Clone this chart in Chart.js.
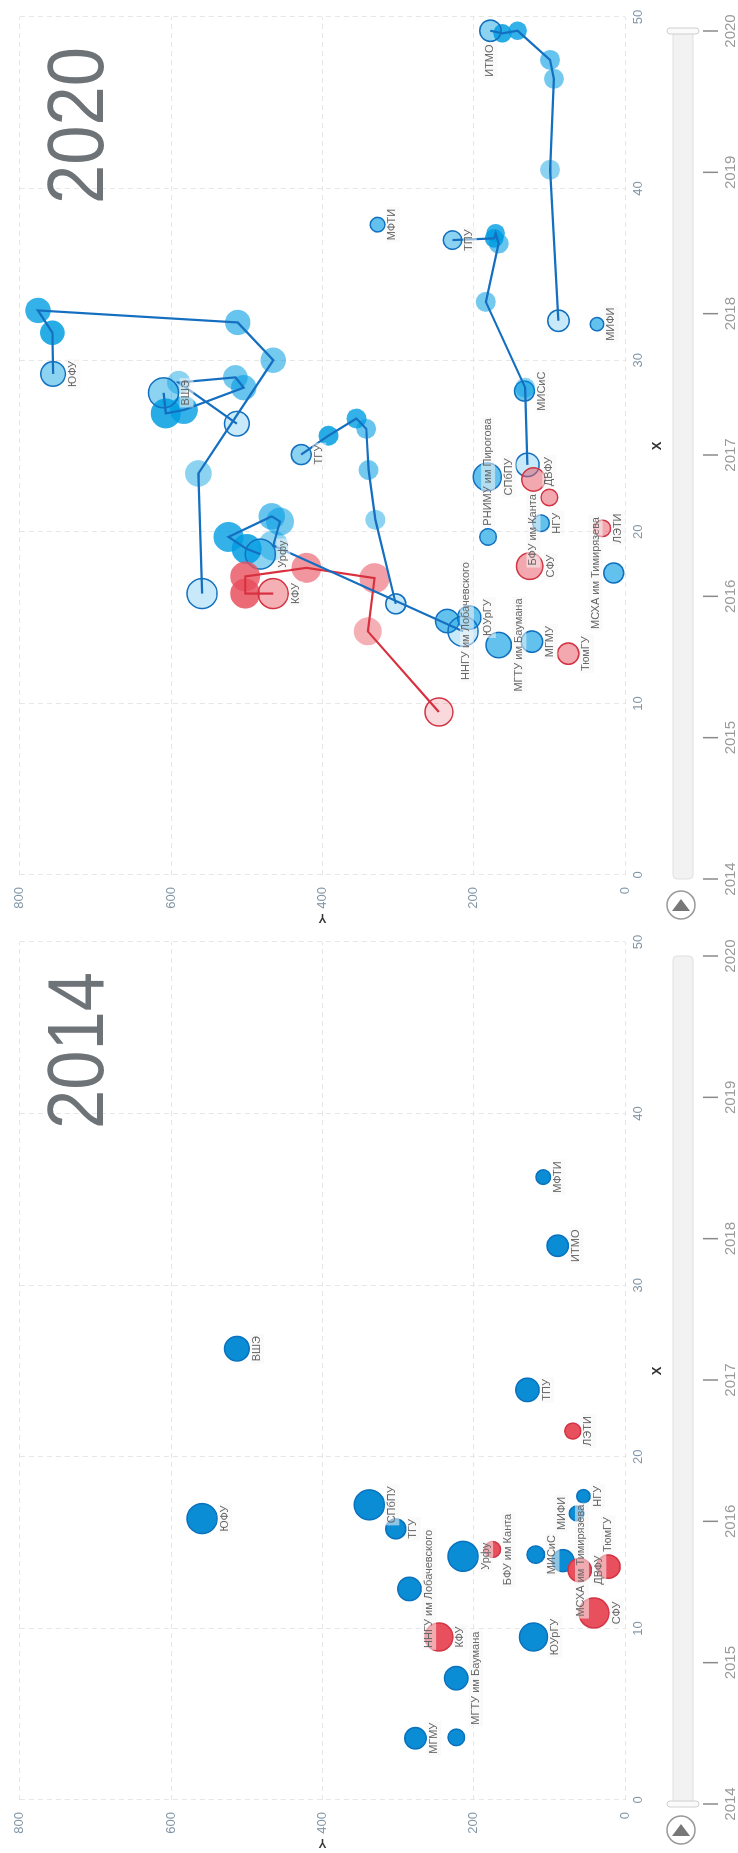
<!DOCTYPE html>
<html>
<head>
<meta charset="utf-8">
<script src="https://cdn.jsdelivr.net/npm/chart.js@4.4.1/dist/chart.umd.min.js"></script>
<style>
    html, body { margin: 0; padding: 0; background: #fff; }
    body { width: 738px; height: 1853px; position: relative; overflow: hidden; }
    .panel { position: absolute; left: 0; width: 925px; height: 738px; transform-origin: 0 0; }
    .panel canvas { display: block; }
</style>
</head>
<body>
<div class="panel" style="top:0; transform: translate(0, 925px) rotate(-90deg);">
    <canvas id="chart2020" width="925" height="738" style="width:925px;height:738px"></canvas>
</div>
<div class="panel" style="top:925px; transform: translate(0, 925px) rotate(-90deg);">
    <canvas id="chart2014" width="925" height="738" style="width:925px;height:738px"></canvas>
</div>
<script>
// ---- данные ----
const years = [2014, 2015, 2016, 2017, 2018, 2019, 2020];
const redUnis = ['КФУ', 'СФУ', 'ЛЭТИ', 'БФУ им Канта', 'ДВФУ', 'ТюмГУ'];

// 2014
const names2014 = ['ЮФУ', 'ВШЭ', 'МФТИ', 'ИТМО', 'ТПУ', 'ЛЭТИ', 'СПбПУ', 'ТГУ', 'ННГУ им Лобачевского', 'Урфу',
    'БФУ им Канта', 'МИСиС', 'МИФИ', 'НГУ', 'МСХА им Тимирязева', 'ДВФУ', 'ТюмГУ', 'СФУ', 'ЮУрГУ', 'КФУ',
    'МГТУ им Баумана', 'МГМУ', 'РНИМУ им Пирогова'];
const x2014 = [16.4, 26.3, 36.3, 32.3, 23.9, 21.5, 17.2, 15.8, 12.3, 14.2,
    14.6, 14.3, 16.7, 17.7, 13.95, 13.4, 13.6, 10.9, 9.5, 9.5,
    7.1, 3.6, 3.65];
const y2014 = [559, 513, 108, 89, 129, 69, 338, 303, 285, 214,
    175, 118, 64, 55, 82, 60, 22, 41, 121, 246,
    223, 277, 223];
const size2014 = [15, 12.3, 7.3, 10.7, 11.7, 8, 15, 10, 11.7, 15,
    8, 8.7, 7.3, 6.7, 11, 11.7, 11.7, 15, 14, 14,
    11.7, 10.7, 8.3];

// 2020, точки без следа
const names2020 = ['МФТИ', 'МИФИ', 'МИСиС', 'РНИМУ им Пирогова', 'СПбПУ', 'БФУ им Канта', 'ДВФУ', 'НГУ', 'ЛЭТИ', 'СФУ',
    'МСХА им Тимирязева', 'ННГУ им Лобачевского', 'ЮУрГУ', 'МГТУ им Баумана', 'МГМУ', 'ТюмГУ'];
const x2020 = [37.9, 32.1, 28.2, 19.7, 23.2, 23.05, 22.0, 20.5, 20.2, 18.0,
    17.6, 14.8, 15.0, 13.4, 13.6, 12.9];
const y2020 = [327, 37, 133, 181, 182, 121, 100, 111, 30, 126,
    15, 235, 206, 167, 123, 75];
const size2020 = [7.3, 6.7, 10, 8.3, 14, 11.7, 8.3, 8.3, 8.3, 13.3,
    10, 11.7, 11.7, 12.7, 10.7, 10.7];

// следы 2014 -> 2020
const trailNames = ['ЮФУ', 'ВШЭ', 'ИТМО', 'ТПУ', 'ТГУ', 'Урфу', 'КФУ'];
const trailX = [
    [16.4, 23.4, 30.0, 32.2, 32.9, 31.6, 29.2],
    [26.3, 28.7, 29.0, 28.4, 27.1, 26.9, 28.1],
    [32.3, 41.1, 46.4, 47.5, 49.2, 49.05, 49.2],
    [23.9, 28.4, 33.4, 36.8, 37.4, 37.1, 37.0],
    [15.8, 20.7, 23.6, 26.0, 26.6, 25.6, 24.5],
    [14.2, 19.2, 20.6, 20.9, 19.7, 19.0, 18.7],
    [9.5, 14.2, 17.3, 17.9, 17.4, 16.4, 16.4]
];
const trailY = [
    [559, 564, 465, 512, 776, 757, 756],
    [513, 590, 515, 504, 583, 607, 610],
    [88, 99, 94, 99, 142, 162, 178],
    [129, 132, 184, 167, 171, 173, 228],
    [303, 330, 339, 342, 355, 392, 428],
    [214, 465, 456, 467, 524, 500, 482],
    [246, 340, 331, 421, 502, 502, 465]
];
const trailSize = [
    [15, 13.3, 12.7, 12.7, 12.7, 12.3, 12.3],
    [12.3, 11.7, 12.3, 12.7, 14, 15, 15],
    [10.7, 10, 10, 10, 9.3, 9.3, 10.7],
    [11.7, 10, 10, 10, 9.3, 9.3, 9.3],
    [10, 10, 10, 10, 10, 10, 10],
    [15, 15, 14, 13.3, 15, 15, 15],
    [14, 14, 15, 15, 15, 15, 15]
];

// где подпись относительно пузыря (b - снизу по умолчанию)
const sides2014 = { 'МИФИ': 't', 'ТюмГУ': 'r', 'РНИМУ им Пирогова': 'none' };
const sides2020 = { 'ИТМО': 'l', 'РНИМУ им Пирогова': 'r', 'БФУ им Канта': 'l', 'ДВФУ': 'r', 'МСХА им Тимирязева': 't' };

const isRed = n => redUnis.includes(n);

function points(names, xs, ys, sizes, keep) {
    const out = [];
    names.forEach((n, i) => {
        if (keep(n)) out.push({ x: xs[i], y: ys[i], r: sizes[i], name: n });
    });
    return out;
}

// подписи у пузырей
const uniLabels = {
    id: 'uniLabels',
    afterDatasetsDraw(chart, args, opts) {
        const ctx = chart.ctx;
        const sides = opts.sides || {};
        ctx.save();
        ctx.font = '11px "Liberation Sans", Arial, sans-serif';
        chart.data.datasets.forEach((ds, di) => {
            const meta = chart.getDatasetMeta(di);
            meta.data.forEach((el, i) => {
                const raw = ds.data[i];
                if (!raw || !raw.name || ds.noLabels) return;
                const side = sides[raw.name] || 'b';
                if (side === 'none') return;
                const r = el.options.radius;
                const w = ctx.measureText(raw.name).width;
                let tx, ty, bx, by;
                if (side === 'b') {
                    ctx.textAlign = 'center'; ctx.textBaseline = 'top';
                    tx = el.x; ty = el.y + r + 2; bx = tx - w / 2; by = ty - 1;
                } else if (side === 't') {
                    ctx.textAlign = 'center'; ctx.textBaseline = 'bottom';
                    tx = el.x; ty = el.y - r - 2; bx = tx - w / 2; by = ty - 13;
                } else if (side === 'r') {
                    ctx.textAlign = 'left'; ctx.textBaseline = 'middle';
                    tx = el.x + r + 3; ty = el.y; bx = tx; by = ty - 7;
                } else {
                    ctx.textAlign = 'right'; ctx.textBaseline = 'middle';
                    tx = el.x - r - 3; ty = el.y; bx = tx - w; by = ty - 7;
                }
                ctx.fillStyle = 'rgba(246,246,246,0.55)';
                ctx.fillRect(bx - 2, by, w + 4, 14);
                ctx.fillStyle = '#666';
                ctx.fillText(raw.name, tx, ty);
            });
        });
        ctx.restore();
    }
};

// большой год на фоне + ползунок с годами
const playAxis = {
    id: 'playAxis',
    beforeDatasetsDraw(chart, args, opts) {
        const { ctx, chartArea } = chart;
        ctx.save();
        ctx.font = '80px "Liberation Sans", Arial, sans-serif';
        ctx.fillStyle = '#6d7377';
        ctx.textAlign = 'right';
        ctx.textBaseline = 'alphabetic';
        const text = String(opts.year);
        const w = ctx.measureText(text).width;
        ctx.translate(chartArea.right - 30, chartArea.top + 83);
        ctx.scale(157 / w, 1);
        ctx.fillText(text, 0, 0);
        ctx.restore();
    },
    afterDraw(chart, args, opts) {
        const ctx = chart.ctx;
        const left = 46, right = 894;
        const step = (right - left) / (years.length - 1);
        ctx.save();
        // дорожка
        ctx.fillStyle = '#f2f2f2';
        ctx.strokeStyle = '#e0e0e0';
        ctx.lineWidth = 1;
        ctx.beginPath();
        ctx.roundRect(left, 673, right - left, 20, 4);
        ctx.fill();
        ctx.stroke();
        // ручка
        const hx = left + step * years.indexOf(opts.year);
        ctx.fillStyle = '#fafafa';
        ctx.strokeStyle = '#cfcfcf';
        ctx.beginPath();
        ctx.roundRect(hx - 3, 667, 6, 32, 3);
        ctx.fill();
        ctx.stroke();
        // деления и подписи годов
        ctx.strokeStyle = '#8a8a8a';
        ctx.lineWidth = 1.5;
        ctx.fillStyle = '#9a9a9a';
        ctx.font = '15px "Liberation Sans", Arial, sans-serif';
        ctx.textAlign = 'center';
        ctx.textBaseline = 'top';
        years.forEach((y, i) => {
            const x = left + step * i;
            ctx.beginPath();
            ctx.moveTo(x, 703);
            ctx.lineTo(x, 718);
            ctx.stroke();
            ctx.fillText(String(y), x, 723);
        });
        // кнопка play
        ctx.strokeStyle = '#9a9a9a';
        ctx.lineWidth = 1.5;
        ctx.beginPath();
        ctx.arc(20, 681, 14, 0, Math.PI * 2);
        ctx.stroke();
        ctx.fillStyle = '#777';
        ctx.beginPath();
        ctx.moveTo(14, 672);
        ctx.lineTo(14, 690);
        ctx.lineTo(26, 681);
        ctx.closePath();
        ctx.fill();
        ctx.restore();
    }
};

function baseOptions(year, sides) {
    const tickFont = { family: '"Liberation Sans", Arial, sans-serif', size: 13 };
    return {
        responsive: false,
        animation: false,
        layout: { padding: { left: 0, top: 17, right: 17, bottom: 68 } },
        plugins: {
            legend: { display: false },
            tooltip: { enabled: false },
            uniLabels: { sides: sides },
            playAxis: { year: year }
        },
        scales: {
            x: {
                type: 'linear', min: 0, max: 50,
                afterFit: s => { s.height = 45; },
                ticks: { stepSize: 10, padding: 6, color: '#8296a6', font: tickFont },
                grid: { color: '#e6e6e6', drawTicks: false },
                border: { display: false, dash: [5, 4] },
                title: { display: true, text: 'X', color: '#333', padding: { top: 0, bottom: 5 },
                    font: { family: '"Liberation Sans", Arial, sans-serif', size: 13, weight: 'bold' } }
            },
            y: {
                type: 'linear', min: 0, max: 800,
                afterFit: s => { s.width = 50; },
                ticks: { stepSize: 200, padding: 12, color: '#8296a6', font: tickFont },
                grid: { color: '#e6e6e6', drawTicks: false },
                border: { display: false, dash: [5, 4] },
                title: { display: true, text: 'Y', color: '#333', padding: 0,
                    font: { family: '"Liberation Sans", Arial, sans-serif', size: 12, weight: 'bold' } }
            }
        }
    };
}

// ---- 2014 ----
new Chart(document.getElementById('chart2014'), {
    type: 'bubble',
    data: {
        datasets: [
            {
                data: points(names2014, x2014, y2014, size2014, isRed),
                backgroundColor: '#e8505e', borderColor: '#d23444', borderWidth: 1.5, clip: false
            },
            {
                data: points(names2014, x2014, y2014, size2014, n => !isRed(n)),
                backgroundColor: '#0b8dd6', borderColor: '#0a72bd', borderWidth: 1.5, clip: false
            }
        ]
    },
    options: baseOptions(2014, sides2014),
    plugins: [uniLabels, playAxis]
});

// ---- 2020 ----
const trailAlpha = [0.22, 0.45, 0.55, 0.6, 0.8, 0.85, 0.45];
const lineSets = [], trailSets = [];
trailNames.forEach((n, t) => {
    const pts = years.map((yr, i) => ({
        x: trailX[t][i], y: trailY[t][i], r: trailSize[t][i],
        name: i === years.length - 1 ? n : null
    }));
    const red = isRed(n);
    const rgb = red ? '232,80,94' : '1,157,226';
    lineSets.push({
        type: 'scatter', showLine: true, noLabels: true,
        data: pts.map(p => ({ x: p.x, y: p.y })),
        borderColor: red ? '#d8303f' : '#146fc0', borderWidth: 2.2,
        pointRadius: 0, clip: false
    });
    trailSets.push({
        type: 'scatter',
        data: pts,
        pointRadius: ctx => ctx.raw.r,
        backgroundColor: ctx => `rgba(${rgb},${trailAlpha[ctx.dataIndex]})`,
        borderColor: red ? '#d23444' : '#1170bf',
        borderWidth: ctx => (ctx.dataIndex === 0 || ctx.dataIndex === years.length - 1) ? 1.5 : 0,
        clip: false
    });
});
// сначала красные следы (рисуются поверх)
trailSets.sort((a, b) => (isRed(b.data[6].name) ? 1 : 0) - (isRed(a.data[6].name) ? 1 : 0));

new Chart(document.getElementById('chart2020'), {
    type: 'bubble',
    data: {
        datasets: [
            ...lineSets,
            {
                data: points(names2020, x2020, y2020, size2020, isRed),
                backgroundColor: 'rgba(232,80,94,0.5)', borderColor: '#d23444', borderWidth: 1.5, clip: false
            },
            ...trailSets,
            {
                data: points(names2020, x2020, y2020, size2020, n => !isRed(n)),
                backgroundColor: 'rgba(1,157,226,0.62)', borderColor: '#1170bf', borderWidth: 1.5, clip: false
            }
        ]
    },
    options: baseOptions(2020, sides2020),
    plugins: [uniLabels, playAxis]
});
</script>
</body>
</html>
